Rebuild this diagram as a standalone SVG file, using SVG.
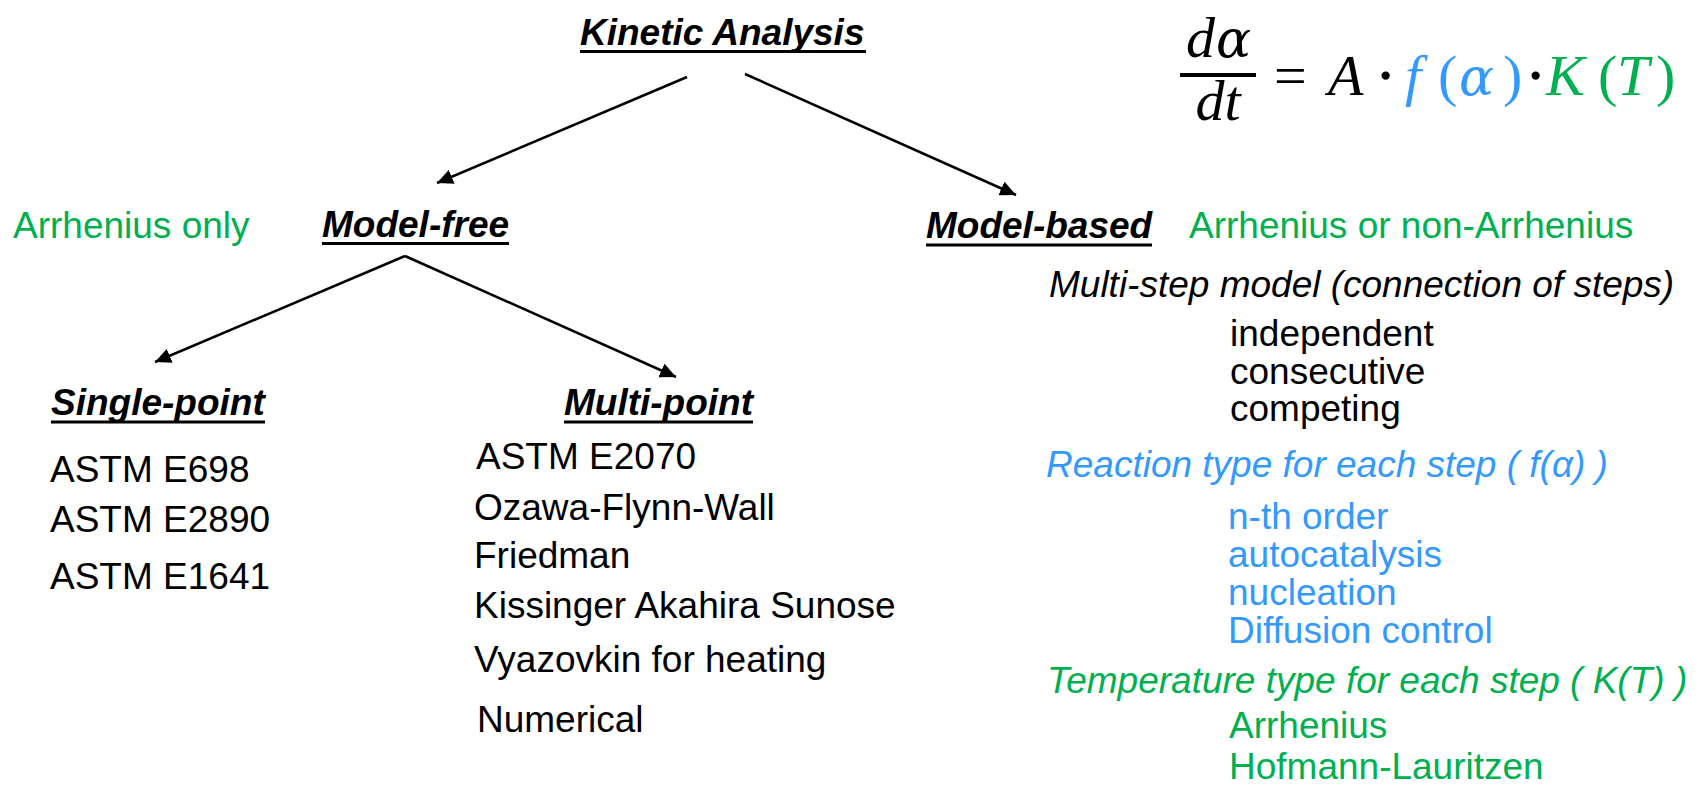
<svg xmlns="http://www.w3.org/2000/svg" width="1701" height="786" viewBox="0 0 1701 786">
<defs>
<style>
.h{font-family:"Liberation Sans",Arial,sans-serif;font-size:37px;font-weight:bold;font-style:italic;fill:#000}
.t{font-family:"Liberation Sans",Arial,sans-serif;font-size:37px;fill:#000}
.i{font-style:italic}
.g{fill:#00B050}
.b{fill:#3399FF}
.ul{stroke:#000;stroke-width:3}
.conn line{stroke:#000;stroke-width:2.5;marker-end:url(#ah)}
.m{font-family:"Liberation Serif","DejaVu Serif",serif;font-style:italic;font-size:58px;fill:#000}
.mu{font-family:"Liberation Serif","DejaVu Serif",serif;font-style:normal;font-size:58px}
.al{font-family:"DejaVu Serif",serif;font-style:italic;font-size:52px}
</style>
<marker id="ah" markerUnits="userSpaceOnUse" markerWidth="17" markerHeight="15" refX="16" refY="7.5" orient="auto">
<path d="M0,0 L16,7.5 L0,15 z" fill="#000"/>
</marker>
</defs>
<rect width="1701" height="786" fill="#fff"/>

<g id="connectors" class="conn">
<line x1="687" y1="77" x2="437" y2="183"/>
<line x1="745" y1="74" x2="1016" y2="195"/>
<line x1="405" y1="256" x2="155" y2="362"/>
<line x1="405" y1="256" x2="676" y2="377"/>
</g>

<g id="kinetic-analysis">
<text class="h" x="580" y="45">Kinetic Analysis</text>
<line class="ul" x1="580" y1="51.5" x2="866" y2="51.5"/>
</g>

<g id="equation">
<text class="m" y="57"><tspan x="1186">d</tspan><tspan class="al" x="1216">α</tspan></text>
<rect x="1180" y="73" width="76" height="4" fill="#000"/>
<text class="m" x="1218" y="120" text-anchor="middle">dt</text>
<text class="m" y="95"><tspan class="mu" x="1274">=</tspan><tspan x="1328">A</tspan><tspan class="mu" x="1376" stroke="#000" stroke-width="1.5">·</tspan><tspan class="b" x="1405">f</tspan><tspan class="b mu" x="1438">(</tspan><tspan class="b al" x="1459">α</tspan><tspan class="b mu" x="1503">)</tspan><tspan class="mu" x="1526" stroke="#000" stroke-width="1.5">·</tspan><tspan class="g" x="1546">K</tspan><tspan class="g mu" x="1598">(</tspan><tspan class="g" x="1617">T</tspan><tspan class="g mu" x="1656">)</tspan></text>
</g>

<g id="arrhenius-only">
<text class="t g" x="13" y="238">Arrhenius only</text>
</g>

<g id="model-free">
<text class="h" x="322" y="237">Model-free</text>
<line class="ul" x1="322" y1="243.5" x2="509" y2="243.5"/>
</g>

<g id="model-based">
<text class="h" x="926" y="238">Model-based</text>
<line class="ul" x1="926" y1="245" x2="1152" y2="245"/>
<text class="t g" x="1189" y="238">Arrhenius or non-Arrhenius</text>
</g>

<g id="multi-step">
<text class="t i" x="1049" y="297">Multi-step model (connection of steps)</text>
<text class="t" x="1230" y="346">independent</text>
<text class="t" x="1230" y="384">consecutive</text>
<text class="t" x="1230" y="421">competing</text>
</g>

<g id="reaction-type">
<text class="t i b" x="1046" y="477">Reaction type for each step ( f(α) )</text>
<text class="t b" x="1228" y="529">n-th order</text>
<text class="t b" x="1228" y="567">autocatalysis</text>
<text class="t b" x="1228" y="605">nucleation</text>
<text class="t b" x="1228" y="643">Diffusion control</text>
</g>

<g id="temperature-type">
<text class="t i g" x="1047" y="693">Temperature type for each step ( K(T) )</text>
<text class="t g" x="1229" y="738">Arrhenius</text>
<text class="t g" x="1229" y="779">Hofmann-Lauritzen</text>
</g>

<g id="single-point">
<text class="h" x="51" y="415">Single-point</text>
<line class="ul" x1="51" y1="422" x2="265" y2="422"/>
<text class="t" x="50" y="482">ASTM E698</text>
<text class="t" x="50" y="532">ASTM E2890</text>
<text class="t" x="50" y="589">ASTM E1641</text>
</g>

<g id="multi-point">
<text class="h" x="564" y="415">Multi-point</text>
<line class="ul" x1="564" y1="422" x2="753" y2="422"/>
<text class="t" x="476" y="469">ASTM E2070</text>
<text class="t" x="474" y="520">Ozawa-Flynn-Wall</text>
<text class="t" x="474" y="568">Friedman</text>
<text class="t" x="474" y="618">Kissinger Akahira Sunose</text>
<text class="t" x="474" y="672">Vyazovkin for heating</text>
<text class="t" x="477" y="732">Numerical</text>
</g>
</svg>
